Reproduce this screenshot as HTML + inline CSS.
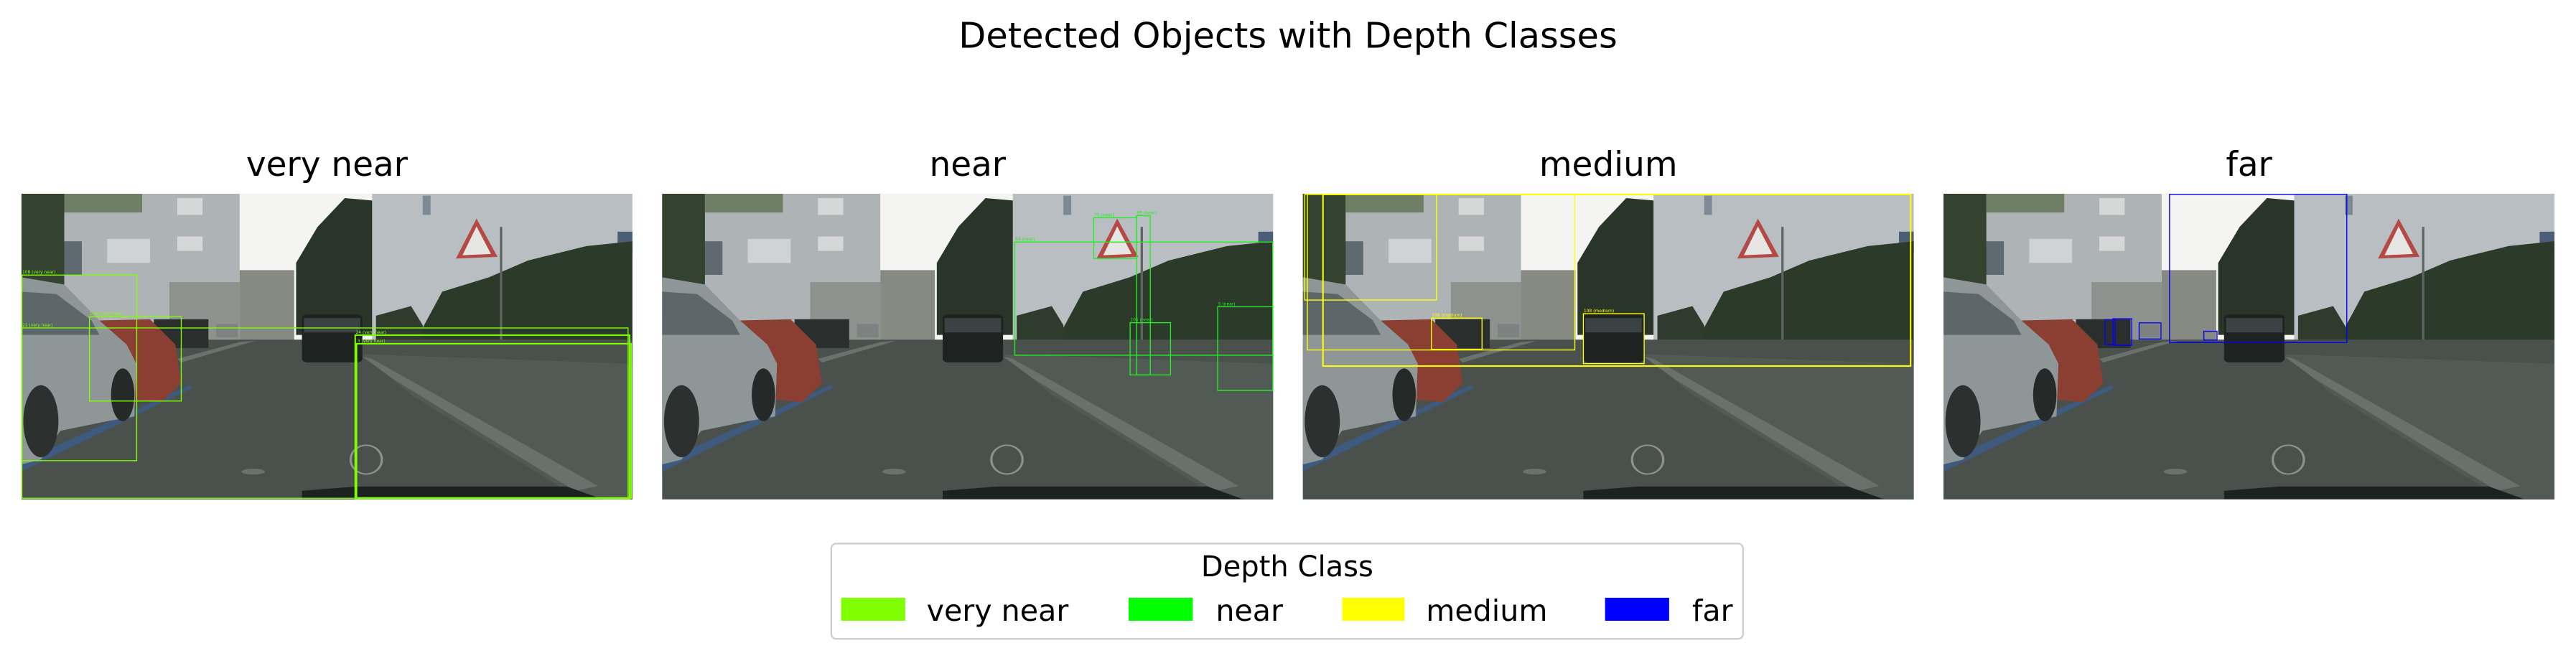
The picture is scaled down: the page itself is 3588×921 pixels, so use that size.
<!DOCTYPE html>
<html><head><meta charset="utf-8"><style>
html,body{margin:0;padding:0;background:#fff;}
svg{display:block;}
text{font-family:"DejaVu Sans","Liberation Sans",sans-serif;fill:#000;}
</style></head><body>
<svg width="3588" height="921" viewBox="0 0 1568 402.5" xmlns="http://www.w3.org/2000/svg">
<defs>
<clipPath id="cp"><rect x="0" y="0" width="372" height="186"/></clipPath>
<g id="scene">
 <g clip-path="url(#cp)">
 <g transform="scale(0.2372,0.1461) translate(0,-12)">
  <rect x="0" y="0" width="1568" height="1300" fill="#f4f5f3"/>
  <polygon points="0,0 560,0 560,640 0,640" fill="#aeb4b6"/>
  <rect x="220" y="200" width="110" height="100" fill="#cfd3d3"/>
  <rect x="400" y="30" width="65" height="70" fill="#d5d8d7"/>
  <rect x="400" y="190" width="65" height="60" fill="#d5d8d7"/>
  <rect x="95" y="210" width="60" height="140" fill="#5f6a70"/>
  <rect x="380" y="380" width="180" height="240" fill="#8d928f"/>
  <rect x="0" y="0" width="110" height="400" fill="#34432f"/>
  <rect x="110" y="0" width="200" height="90" fill="#6f7f66"/>
  <polygon points="560,330 700,330 700,640 560,640" fill="#878a83"/>
  <polygon points="705,600 705,300 760,150 830,30 900,40 930,200 930,600" fill="#283528"/>
  <polygon points="900,0 1568,0 1568,660 900,660" fill="#b8bec1"/>
  <rect x="1030" y="20" width="20" height="80" fill="#7d8a96"/>
  <rect x="1530" y="170" width="38" height="90" fill="#4c5d78"/>
  <polygon points="1000,660 1080,420 1200,360 1300,290 1450,230 1568,210 1568,720 1000,700" fill="#2c3a2a"/>
  <polygon points="910,520 1000,480 1030,560 1030,640 910,640" fill="#2f3c2d"/>
  <polygon points="1115,282 1168,115 1222,275" fill="#b44a45"/>
  <polygon points="1132,268 1168,148 1205,263" fill="#e6e6e4"/>
  <rect x="1228" y="150" width="6" height="600" fill="#5d6563"/>
  <polygon points="0,620 1568,620 1568,1300 0,1300" fill="#4a514c"/>
  <polygon points="875,680 1568,720 1568,1300 1450,1300 1350,1200 1000,850" fill="#525a55"/>
  <polygon points="875,690 900,700 1480,1230 1420,1250 950,780" fill="#6a716c"/>
  <polygon points="400,700 560,630 600,625 410,715" fill="#6b716c"/>
  <polygon points="0,1130 430,810 440,820 0,1170" fill="#3e5a7e"/>
  <rect x="340" y="535" width="140" height="120" fill="#2a2f2e"/>
  <rect x="500" y="555" width="55" height="55" fill="#7d817f"/>
  <polygon points="200,540 330,535 395,640 410,800 360,880 290,870 200,700" fill="#8b3f33"/>
  <polygon points="0,360 110,390 200,540 270,640 295,720 290,940 220,960 100,1000 50,1120 0,1140" fill="#8f9697"/>
  <polygon points="0,420 90,430 180,540 200,600 0,600" fill="#5d6668"/>
  <ellipse cx="50" cy="960" rx="45" ry="150" fill="#2c302f"/>
  <ellipse cx="260" cy="850" rx="30" ry="110" fill="#252928"/>
  <rect x="720" y="515" width="155" height="200" rx="15" fill="#1e2221"/>
  <rect x="725" y="530" width="145" height="60" fill="#3b4244"/>
  <ellipse cx="885" cy="1120" rx="40" ry="60" fill="none" stroke="#8c918e" stroke-width="6"/>
  <ellipse cx="595" cy="1170" rx="30" ry="12" fill="#6b716d"/>
  <polygon points="720,1250 860,1232 1400,1232 1500,1290 720,1290" fill="#1d2221"/>
  <rect x="0" y="1283" width="1568" height="20" fill="#2d3331"/>
 </g>
 </g>
</g>
</defs>

<text x="784" y="29" font-size="21.6" text-anchor="middle">Detected Objects with Depth Classes</text>

<!-- panel 1 -->
<text x="199" y="107" font-size="20.5" text-anchor="middle">very near</text>
<g transform="translate(13,118)">
 <use href="#scene"/>
 <g fill="none" stroke="#7fff00" stroke-width="0.6">
  <rect x="0.3" y="49.5" width="69.9" height="113"/>
  <rect x="41.4" y="74.9" width="55.9" height="51.3"/>
  <rect x="0.3" y="81.7" width="369" height="103.7"/>
  <rect x="203.2" y="86.1" width="167" height="99.4" stroke-width="0.9"/>
  <rect x="204" y="91.3" width="167.2" height="93.9" stroke-width="0.9"/>
 </g>
 <g font-size="2.6">
  <text x="0.5" y="48.5" style="fill:#7fff00">108 (very near)</text>
  <text x="41.5" y="73.8" style="fill:#7fff00">108 (very near)</text>
  <text x="0.5" y="80.8" style="fill:#7fff00">21 (very near)</text>
  <text x="203.5" y="85.2" style="fill:#7fff00">24 (very near)</text>
  <text x="204.5" y="90.4" style="fill:#7fff00">3 (very near)</text>
 </g>
</g>

<!-- panel 2 -->
<text x="589" y="107" font-size="20.5" text-anchor="middle">near</text>
<g transform="translate(403,118)">
 <use href="#scene"/>
 <g fill="none" stroke="#22ee22" stroke-width="0.6">
  <rect x="214.7" y="29.4" width="157" height="68.9"/>
  <rect x="262.8" y="14.6" width="26.1" height="24.8"/>
  <rect x="288.9" y="13.3" width="8.3" height="97"/>
  <rect x="284.9" y="78.5" width="24.6" height="31.8"/>
  <rect x="338.2" y="68.8" width="33.6" height="51"/>
 </g>
 <g font-size="2.6">
  <text x="215" y="28.5" style="fill:#22ee22">64 (near)</text>
  <text x="263" y="13.8" style="fill:#22ee22">75 (near)</text>
  <text x="289" y="12.4" style="fill:#22ee22">85 (near)</text>
  <text x="285" y="77.6" style="fill:#22ee22">105 (near)</text>
  <text x="338.5" y="67.9" style="fill:#22ee22">5 (near)</text>
 </g>
</g>

<!-- panel 3 -->
<text x="979" y="107" font-size="20.5" text-anchor="middle">medium</text>
<g transform="translate(793,118)">
 <use href="#scene"/>
 <g fill="none" stroke="#ffff00" stroke-width="0.6">
  <rect x="2.8" y="0.4" width="162.8" height="94.7"/>
  <rect x="12.3" y="0.4" width="357.7" height="104.5" stroke-width="0.9"/>
  <rect x="1.2" y="0.4" width="80.2" height="64.3"/>
  <rect x="78.3" y="75.7" width="30.8" height="19"/>
  <rect x="170.8" y="73" width="37" height="30.4"/>
 </g>
 <g font-size="2.6">
  <text x="78.5" y="74.8" style="fill:#ffff00">108 (medium)</text>
  <text x="171" y="72.1" style="fill:#ffff00">108 (medium)</text>
 </g>
</g>

<!-- panel 4 -->
<text x="1369" y="107" font-size="20.5" text-anchor="middle">far</text>
<g transform="translate(1183,118)">
 <use href="#scene"/>
 <g fill="none" stroke="#0000ff" stroke-width="0.6">
  <rect x="137.6" y="0.3" width="107.9" height="90.3"/>
  <rect x="98.4" y="76.7" width="6" height="15.1"/>
  <rect x="103.2" y="76.1" width="11.4" height="16.1"/>
  <rect x="119.1" y="78.6" width="13.3" height="9.8"/>
  <rect x="158.5" y="83.7" width="8" height="5.4"/>
 </g>
</g>

<!-- legend -->
<rect x="506" y="331" width="555" height="58" rx="3" ry="3" fill="#fff" stroke="#cccccc" stroke-width="1"/>
<text x="783.5" y="351" font-size="17.5" text-anchor="middle">Depth Class</text>
<rect x="512" y="364" width="39" height="14" fill="#7fff00"/>
<text x="564" y="378" font-size="18">very near</text>
<rect x="687" y="364" width="39" height="14" fill="#00ff00"/>
<text x="740" y="378" font-size="18">near</text>
<rect x="817" y="364" width="38" height="14" fill="#ffff00"/>
<text x="868" y="378" font-size="18">medium</text>
<rect x="977" y="364" width="39" height="14" fill="#0000ff"/>
<text x="1030" y="378" font-size="18">far</text>
</svg>
</body></html>
